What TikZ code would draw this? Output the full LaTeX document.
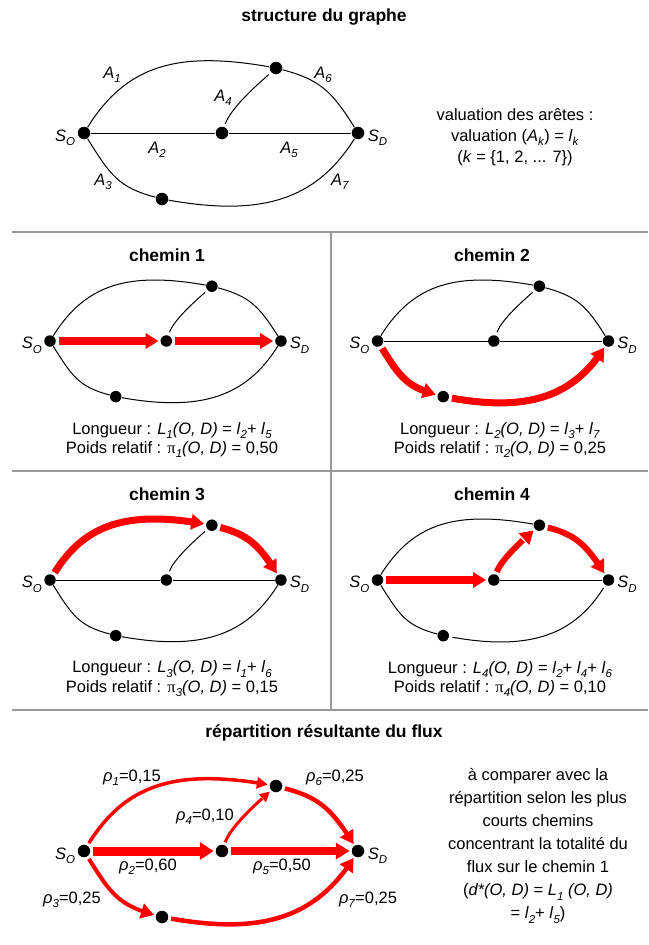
\documentclass[tikz,border=0pt]{standalone}
\usepackage{fontspec}
\setmainfont{Liberation Sans}
\newfontfamily\pifont{Liberation Serif}
\usetikzlibrary{arrows.meta,bending}
\newcommand{\sbs}[1]{\raisebox{-0.27em}{\fontsize{11.5}{11.5}\selectfont\textit{#1}}}
\newcommand{\isub}[2]{\textit{#1}\sbs{#2}}
\newcommand{\pisub}[1]{{\pifont π}\sbs{#1}}
\newcommand{\rhol}[2]{\textit{ρ}\sbs{#1}=#2}
% edge paths of a graph whose nodes carry the prefix #1
\newcommand{\arcOT}[1]{(#1SO) .. controls +(58:80) and +(170:100) .. (#1T)}
\newcommand{\arcTD}[1]{(#1T) .. controls +(-15:45) and +(122:50) .. (#1SD)}
\newcommand{\arcOB}[1]{(#1SO) .. controls +(-58:50) and +(165:45) .. (#1B)}
\newcommand{\arcBD}[1]{(#1B) .. controls +(-10:100) and +(-122:80) .. (#1SD)}
\newcommand{\arcMT}[1]{(#1M) .. controls +(70:28) and +(-138:22) .. (#1T)}
\newcommand{\segOM}[1]{(#1SO) -- (#1M)}
\newcommand{\segMD}[1]{(#1M) -- (#1SD)}
% nodes of a graph
\newcommand{\gnodes}[2]{%
  \node[#2] (#1SO) at (-137,0) {};
  \node[#2] (#1M)  at (1,0) {};
  \node[#2] (#1SD) at (137,0) {};
  \node[#2] (#1T)  at (55,65) {};
  \node[#2] (#1B)  at (-59,-66) {};
  \node[lbl, anchor=east] (#1lSO) at ([xshift=-2pt,yshift=-5pt]#1SO.west) {\isub{S}{O}};
  \node[lbl, anchor=west] (#1lSD) at ([xshift=3pt,yshift=-5pt]#1SD.east) {\isub{S}{D}};
}
\begin{document}
\begin{tikzpicture}[x=1pt,y=1pt,
  dot/.style={circle,fill=black,inner sep=0pt,minimum size=12.5pt,outer sep=0.5pt},
  sdot/.style={dot,minimum size=11.5pt},
  edge/.style={line width=1pt,black},
  cedge/.style={edge, shorten <=3pt, shorten >=3pt},
  lbl/.style={font=\fontsize{16.5}{18}\selectfont, inner sep=0pt},
  ttl/.style={font=\fontsize{17.5}{20}\selectfont\bfseries, inner sep=0pt},
  txt/.style={font=\fontsize{16.5}{19.5}\selectfont, align=center, inner sep=0pt},
  sepline/.style={line width=1.6pt, black!40},
  flow/.style={draw=red, line width=#1, shorten <=2.5pt, shorten >=1.5pt},
  tip/.style={-{Triangle[length=13pt,width=15pt,flex]}},
  stip/.style={-{Triangle[length=11pt,width=11pt,flex]}}
]
\fill[white] (0,0) rectangle (648,-945);
\useasboundingbox (0,0) rectangle (648,-945);

% separators
\coordinate (h1a) at (12,-232); \coordinate (h1b) at (648,-232);
\coordinate (h2a) at (12,-471); \coordinate (h2b) at (648,-471);
\coordinate (h3a) at (12,-710); \coordinate (h3b) at (648,-710);
\coordinate (v1a) at (331,-232); \coordinate (v1b) at (331,-710);
\draw[sepline] (h1a) -- (h1b);
\draw[sepline] (h2a) -- (h2b);
\draw[sepline] (h3a) -- (h3b);
\draw[sepline] (v1a) -- (v1b);

% ---------------- structure du graphe
\node[ttl] (t0) at (324,-17) {structure du graphe};
\begin{scope}[shift={(221,-133)}]
  \gnodes{g}{dot}
  \draw[cedge] \arcOT{g} \arcTD{g} \arcOB{g} \arcBD{g} \arcMT{g};
  \draw[edge] \segOM{g} \segMD{g};
  \node[lbl] (gA1) at (-109,58) {\isub{A}{1}};
  \node[lbl] (gA6) at (102,58) {\isub{A}{6}};
  \node[lbl] (gA4) at (2,35) {\isub{A}{4}};
  \node[lbl] (gA2) at (-64,-17) {\isub{A}{2}};
  \node[lbl] (gA5) at (68,-17) {\isub{A}{5}};
  \node[lbl] (gA3) at (-118,-49) {\isub{A}{3}};
  \node[lbl] (gA7) at (119,-49) {\isub{A}{7}};
\end{scope}
\node[txt, font=\fontsize{16.5}{21}\selectfont] (val) at (515,-137)
  {valuation des arêtes :\\ valuation (\isub{A}{k}) = \isub{l}{k}\\ (\textit{k} = \{1, 2, ... 7\})};

% ---------------- chemin 1
\node[ttl] (t1) at (167,-255) {chemin 1};
\begin{scope}[shift={(165.5,-341)}, scale=0.843]
  \gnodes{a}{sdot}
  \draw[cedge] \arcOT{a} \arcTD{a} \arcOB{a} \arcBD{a} \arcMT{a};
  \draw[flow=8pt, tip] \segOM{a};
  \draw[flow=8pt, tip] \segMD{a};
\end{scope}
\node[txt] (c1) at (172,-440)
  {Longueur : \isub{L}{1}\textit{(O, D)} = \isub{l}{2}+ \isub{l}{5}\\
   Poids relatif : \pisub{1}\textit{(O, D)} = 0,50};

% ---------------- chemin 2
\node[ttl] (t2) at (492,-255) {chemin 2};
\begin{scope}[shift={(493,-341)}, scale=0.843]
  \gnodes{b}{sdot}
  \draw[cedge] \arcOT{b} \arcTD{b} \arcMT{b};
  \draw[edge] \segOM{b} \segMD{b};
  \draw[flow=7pt, tip] \arcOB{b};
  \draw[flow=7pt, tip] \arcBD{b};
\end{scope}
\node[txt] (c2) at (500,-440)
  {Longueur : \isub{L}{2}\textit{(O, D)} = \isub{l}{3}+ \isub{l}{7}\\
   Poids relatif : \pisub{2}\textit{(O, D)} = 0,25};

% ---------------- chemin 3
\node[ttl] (t3) at (167,-494) {chemin 3};
\begin{scope}[shift={(165.5,-580)}, scale=0.843]
  \gnodes{c}{sdot}
  \draw[cedge] \arcOB{c} \arcBD{c} \arcMT{c};
  \draw[edge] \segOM{c} \segMD{c};
  \draw[flow=7pt, tip] \arcOT{c};
  \draw[flow=7pt, tip] \arcTD{c};
\end{scope}
\node[txt] (c3) at (172,-679)
  {Longueur : \isub{L}{3}\textit{(O, D)} = \isub{l}{1}+ \isub{l}{6}\\
   Poids relatif : \pisub{3}\textit{(O, D)} = 0,15};

% ---------------- chemin 4
\node[ttl] (t4) at (492,-494) {chemin 4};
\begin{scope}[shift={(493,-580)}, scale=0.843]
  \gnodes{d}{sdot}
  \draw[cedge] \arcOT{d} \arcOB{d} \arcBD{d};
  \draw[edge] \segMD{d};
  \draw[flow=8pt, tip] \segOM{d};
  \draw[flow=6pt, tip] \arcMT{d};
  \draw[flow=6pt, tip] \arcTD{d};
\end{scope}
\node[txt] (c4) at (500,-679)
  {Longueur : \isub{L}{4}\textit{(O, D)} = \isub{l}{2}+ \isub{l}{4}+ \isub{l}{6}\\
   Poids relatif : \pisub{4}\textit{(O, D)} = 0,10};

% ---------------- répartition
\node[ttl] (t5) at (324,-733) {répartition résultante du flux};
\begin{scope}[shift={(221,-851)}]
  \gnodes{r}{dot}
  \draw[flow=3.5pt, stip] \arcOT{r};
  \draw[flow=4.5pt, tip] \arcTD{r};
  \draw[flow=4pt, tip] \arcOB{r};
  \draw[flow=4.5pt, tip] \arcBD{r};
  \draw[flow=3pt, -{Triangle[length=10pt,width=10pt,flex]}] \arcMT{r};
  \draw[flow=9pt, -{Triangle[length=14pt,width=17pt]}] \segOM{r};
  \draw[flow=7.5pt, -{Triangle[length=14pt,width=16pt]}] \segMD{r};
  \node[lbl] (r1) at (-89,73) {\rhol{1}{0,15}};
  \node[lbl] (r6) at (114,73) {\rhol{6}{0,25}};
  \node[lbl] (r4) at (-16,34) {\rhol{4}{0,10}};
  \node[lbl] (r2) at (-73,-16) {\rhol{2}{0,60}};
  \node[lbl] (r5) at (61,-16) {\rhol{5}{0,50}};
  \node[lbl] (r3) at (-149,-49) {\rhol{3}{0,25}};
  \node[lbl] (r7) at (147,-49) {\rhol{7}{0,25}};
\end{scope}
\node[txt, font=\fontsize{16.5}{23}\selectfont] (cmp) at (538,-846)
  {à comparer avec la\\ répartition selon les plus\\ courts chemins\\
   concentrant la totalité du\\ flux sur le chemin 1\\
   (\textit{d*(O, D)} = \isub{L}{1} \textit{(O, D)}\\ = \isub{l}{2}+ \isub{l}{5})};
\end{tikzpicture}
\end{document}
